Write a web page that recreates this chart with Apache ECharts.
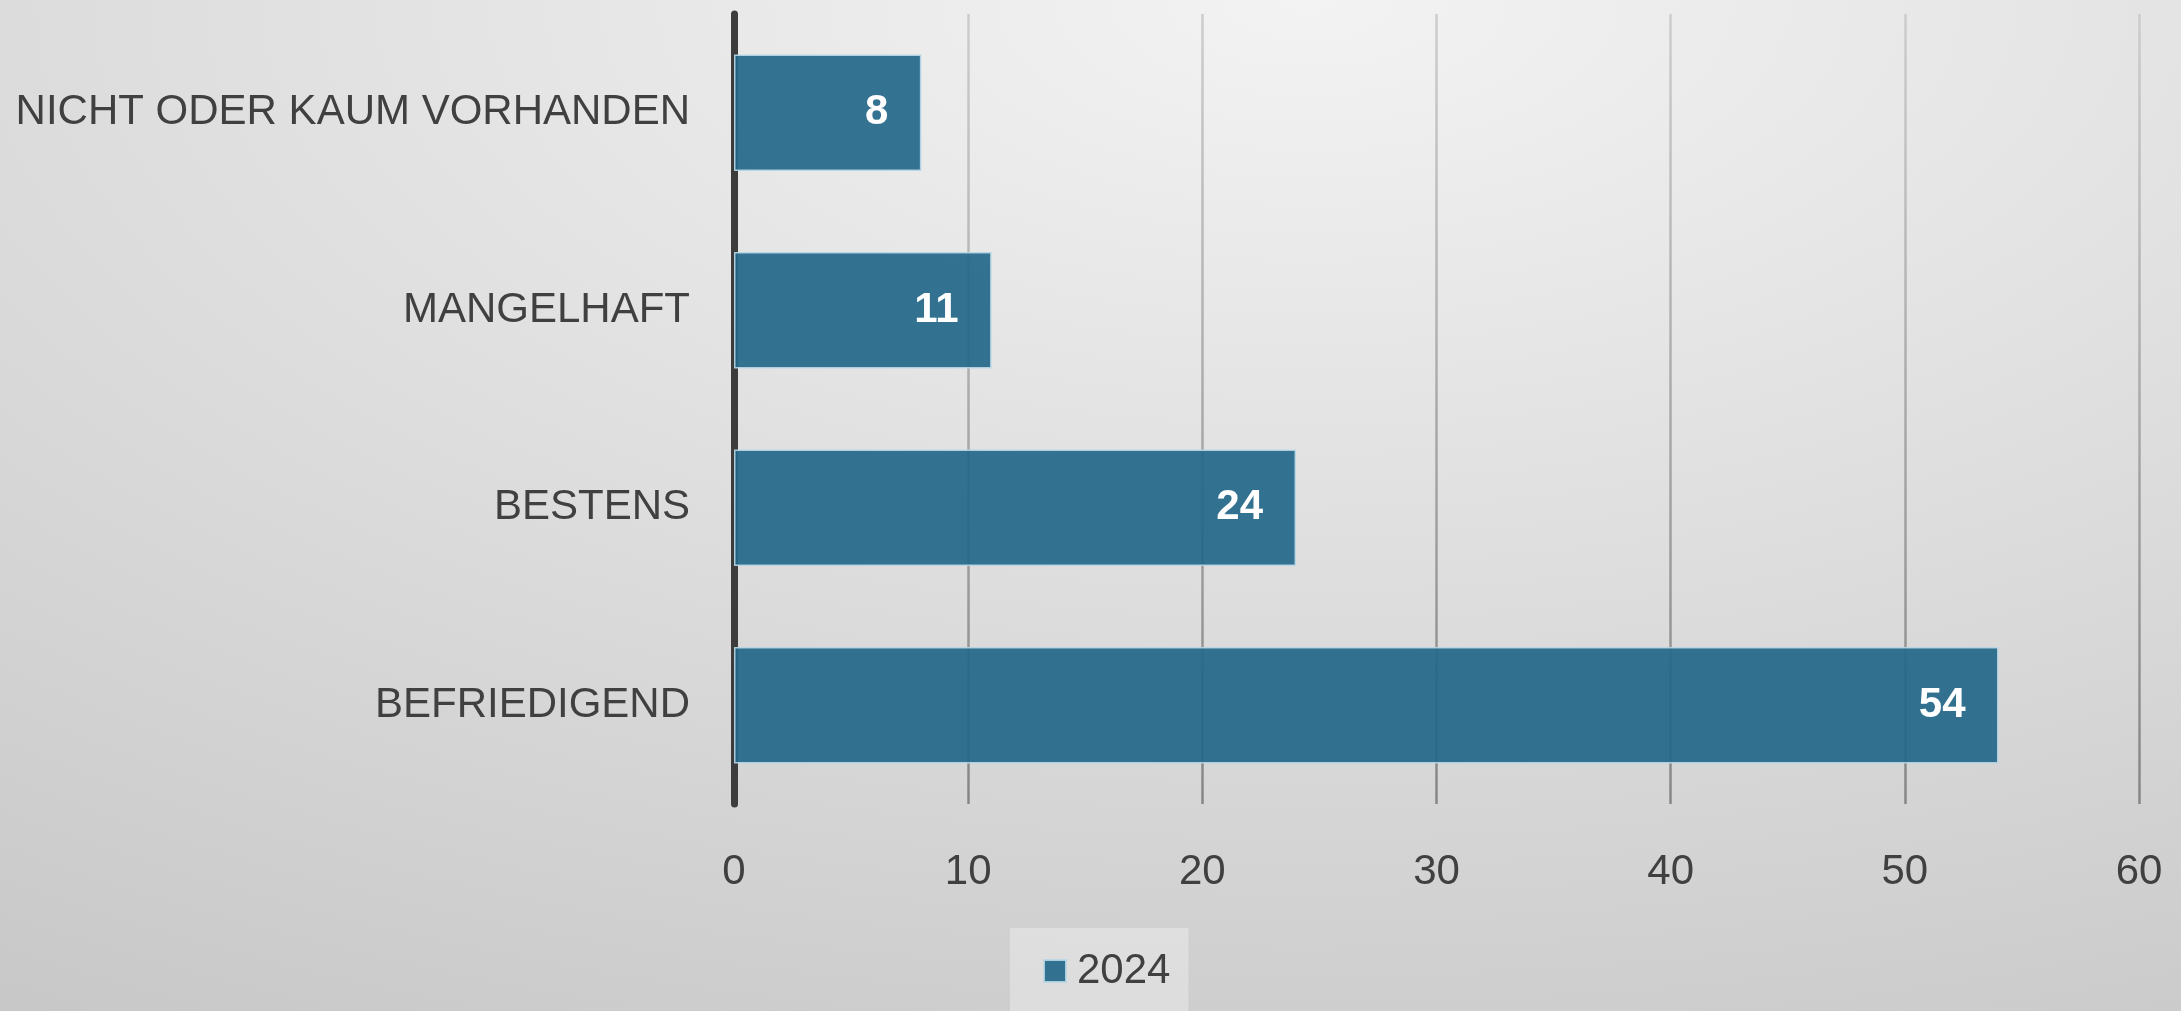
<!DOCTYPE html>
<html>
<head>
    <meta charset="utf-8">
    <title>ECharts</title>
    <script src="https://cdn.jsdelivr.net/npm/echarts@6/dist/echarts.min.js"></script>
    <style>
        html, body { margin: 0; padding: 0; }
        #main {
            width: 2181px; height: 1011px;
            background: radial-gradient(ellipse 2600px 1264px at 60% 0%, #f3f3f3 0%, #c5c5c5 100%);
        }
    </style>
</head>
<body>
<div id="main"></div>
<script type="text/javascript">
    // 数据
    var categories = ['NICHT ODER KAUM VORHANDEN', 'MANGELHAFT', 'BESTENS', 'BEFRIEDIGEND'];
    var values2024 = [8, 11, 24, 54];
    var seriesName = '2024';
    var axisMax = 60;
    var axisStep = 10;

    var myChart = echarts.init(document.getElementById('main'));
    var font = '"Liberation Sans", Arial, sans-serif';

    var option = {
        backgroundColor: 'transparent',
        animation: false,
        grid: { left: 734, right: 42, top: 14, bottom: 207, containLabel: false },
        legend: {
            data: [seriesName],
            left: 1010,
            top: 928,
            padding: [22, 18, 22, 33],
            backgroundColor: 'rgba(255,255,255,0.3)',
            itemWidth: 22,
            itemHeight: 22,
            itemGap: 12,
            icon: 'rect',
            textStyle: { fontSize: 42, color: '#404040', fontFamily: font, padding: [0, 0, 0, 6] }
        },
        xAxis: {
            type: 'value',
            min: 0,
            max: axisMax,
            interval: axisStep,
            axisLine: { show: false },
            axisTick: { show: false },
            axisLabel: { fontSize: 42, color: '#404040', fontFamily: font, margin: 47 },
            splitLine: {
                show: true,
                lineStyle: {
                    width: 2.5,
                    color: new echarts.graphic.LinearGradient(0, 14, 0, 804, [
                        { offset: 0, color: '#cdcdcd' },
                        { offset: 1, color: '#868686' }
                    ], true)
                }
            }
        },
        yAxis: {
            type: 'category',
            data: categories,
            inverse: true,
            axisLine: { show: true, lineStyle: { color: '#3c3c3c', width: 7 } },
            axisTick: { show: false },
            axisLabel: { fontSize: 42, color: '#404040', fontFamily: font, margin: 44 }
        },
        series: [
            {
                name: seriesName,
                type: 'bar',
                data: values2024,
                barCategoryGap: '41%',
                itemStyle: {
                    color: 'rgba(35,104,137,0.92)',
                    borderColor: 'rgba(185,215,230,0.9)',
                    borderWidth: 1.5
                },
                label: {
                    show: true,
                    position: 'insideRight',
                    distance: 33,
                    color: '#ffffff',
                    fontWeight: 'bold',
                    fontSize: 42,
                    fontFamily: font
                }
            }
        ]
    };

    myChart.setOption(option);
</script>
</body>
</html>
